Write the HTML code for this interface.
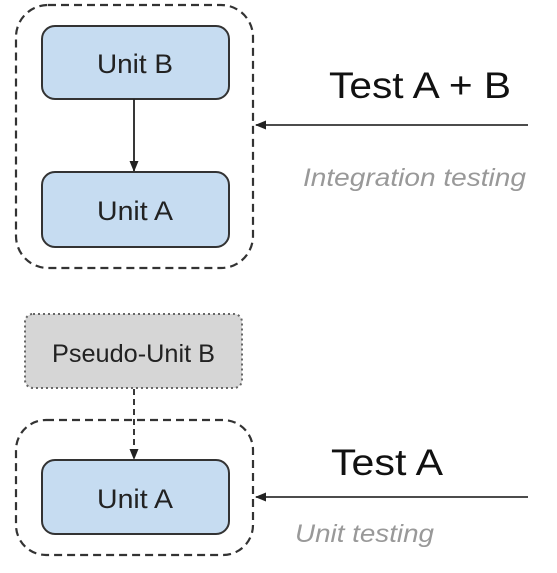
<!DOCTYPE html>
<html><head><style>
html,body{margin:0;padding:0;background:#fff;}
svg{display:block;}
</style></head><body>
<svg width="557" height="573" viewBox="0 0 557 573" xmlns="http://www.w3.org/2000/svg" font-family="Liberation Sans, Arial, sans-serif">
<defs>
<marker id="ah" markerWidth="12" markerHeight="12" refX="10" refY="6" orient="auto" markerUnits="userSpaceOnUse">
<path d="M0,1.5 L11,6 L0,10.5 Z" fill="#222"/>
</marker>
</defs>
<!-- top group -->
<rect x="16" y="5" width="237" height="263" rx="32" fill="none" stroke="#333" stroke-width="2.2" stroke-dasharray="8,5"/>
<rect x="42" y="26" width="187" height="73" rx="13" fill="#c6dcf1" stroke="#333" stroke-width="2"/>
<text x="97" y="73" font-size="27" textLength="76" lengthAdjust="spacingAndGlyphs" fill="#222">Unit B</text>
<line x1="134" y1="99" x2="134" y2="171" stroke="#222" stroke-width="1.8" marker-end="url(#ah)"/>
<rect x="42" y="172" width="187" height="75" rx="13" fill="#c6dcf1" stroke="#333" stroke-width="2"/>
<text x="97" y="220" font-size="27" textLength="76" lengthAdjust="spacingAndGlyphs" fill="#222">Unit A</text>
<line x1="528" y1="125" x2="256" y2="125" stroke="#333" stroke-width="1.8" marker-end="url(#ah)"/>
<text x="329" y="98" font-size="37" textLength="182" lengthAdjust="spacingAndGlyphs" fill="#111">Test A + B</text>
<text x="303" y="186" font-size="25" textLength="223" lengthAdjust="spacingAndGlyphs" font-style="italic" fill="#999">Integration testing</text>
<!-- bottom group -->
<rect x="25" y="314" width="217" height="74" rx="8" fill="#d6d6d6" stroke="#666" stroke-width="2" stroke-dasharray="2,3"/>
<text x="52" y="362" font-size="25" textLength="163" lengthAdjust="spacingAndGlyphs" fill="#222">Pseudo-Unit B</text>
<line x1="134" y1="389" x2="134" y2="459" stroke="#222" stroke-width="1.8" stroke-dasharray="6,4" marker-end="url(#ah)"/>
<rect x="16" y="420" width="237" height="135" rx="30" fill="none" stroke="#333" stroke-width="2.2" stroke-dasharray="8,5"/>
<rect x="42" y="460" width="187" height="74" rx="13" fill="#c6dcf1" stroke="#333" stroke-width="2"/>
<text x="97" y="508" font-size="27" textLength="76" lengthAdjust="spacingAndGlyphs" fill="#222">Unit A</text>
<line x1="528" y1="497" x2="256" y2="497" stroke="#333" stroke-width="1.8" marker-end="url(#ah)"/>
<text x="331" y="475" font-size="37" textLength="112" lengthAdjust="spacingAndGlyphs" fill="#111">Test A</text>
<text x="295" y="542" font-size="25" textLength="139" lengthAdjust="spacingAndGlyphs" font-style="italic" fill="#999">Unit testing</text>
</svg>
</body></html>
